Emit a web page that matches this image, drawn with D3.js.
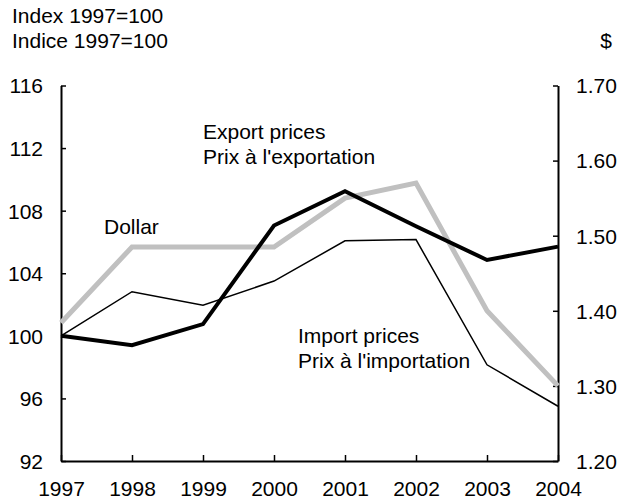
<!DOCTYPE html>
<html>
<head>
<meta charset="utf-8">
<script src="https://cdn.jsdelivr.net/npm/d3@7"></script>
<style>
  body { margin: 0; background: #fff; }
  text { font-family: "Liberation Sans", Arial, sans-serif; font-size: 21px; fill: #000; }
</style>
</head>
<body>
<svg id="chart"></svg>
<script>
const years = [1997, 1998, 1999, 2000, 2001, 2002, 2003, 2004];
const exportPrices = [100, 99.4, 100.75, 107.05, 109.25, 107.0, 104.85, 105.7];
const importPrices = [100, 102.82, 101.95, 103.5, 106.07, 106.15, 98.15, 95.5];
const dollar = [1.384, 1.485, 1.485, 1.485, 1.550, 1.570, 1.400, 1.300];
const leftTicks = [92, 96, 100, 104, 108, 112, 116];
const rightTicks = [1.20, 1.30, 1.40, 1.50, 1.60, 1.70];

const svg = d3.select("#chart");
svg.attr('width', 617);
svg.attr('height', 502);

const x = d3.scaleLinear().domain([1997, 2004]).range([61, 558]);
const yL = d3.scaleLinear().domain([92, 116]).range([461, 85.5]);
const yR = d3.scaleLinear().domain([1.20, 1.70]).range([461, 85.5]);

const drawAxes = () => {
    const left = svg.append("g")
        .attr("transform", `translate(${x.range()[0]},0)`)
        .call(d3.axisRight(yL).tickValues(leftTicks).tickSize(5).tickSizeOuter(0).tickFormat(d3.format("d")));
    left.selectAll(".tick text").attr("x", -18).attr("text-anchor", "end").attr("dy", "0.35em");

    const right = svg.append("g")
        .attr("transform", `translate(${x.range()[1]},0)`)
        .call(d3.axisLeft(yR).tickValues(rightTicks).tickSize(5).tickSizeOuter(0).tickFormat(d3.format(".2f")));
    right.selectAll(".tick text").attr("x", 18).attr("text-anchor", "start").attr("dy", "0.35em");

    const bottom = svg.append("g")
        .attr("transform", `translate(0,${yL.range()[0]})`)
        .call(d3.axisTop(x).tickValues(years).tickSize(6).tickSizeOuter(0).tickFormat(d3.format("d")));
    bottom.selectAll(".tick text").attr("y", 28).attr("dy", "0.35em");

    svg.selectAll(".domain").attr("stroke", "#000").attr("stroke-width", 2);
    svg.selectAll(".tick line").attr("stroke", "#000").attr("stroke-width", 1.5);
    svg.selectAll(".tick text").style("font-size", "21px").style("font-family", "'Liberation Sans', Arial, sans-serif").attr("fill", "#000");
}

const drawLine = (values, yScale, color, width) => {
    svg.append("path")
        .datum(values)
        .attr("d", d3.line().x((d, i) => x(years[i])).y(d => yScale(d)))
        .style("fill", "none")
        .attr("stroke", color)
        .attr("stroke-width", width)
        .attr("stroke-linejoin", "miter");
}

drawAxes();
drawLine(dollar, yR, "#c0c0c0", 5);
drawLine(importPrices, yL, "#000", 1.5);
drawLine(exportPrices, yL, "#000", 4);

const labels = [
    {t: "Index 1997=100", x: 12, y: 23, a: "start"},
    {t: "Indice 1997=100", x: 12, y: 48, a: "start"},
    {t: "$", x: 612, y: 48, a: "end"},
    {t: "Export prices", x: 203, y: 139, a: "start"},
    {t: "Prix à l'exportation", x: 203, y: 164, a: "start"},
    {t: "Dollar", x: 104, y: 234, a: "start"},
    {t: "Import prices", x: 298, y: 343, a: "start"},
    {t: "Prix à l'importation", x: 298, y: 368, a: "start"}
];
svg.append("g")
    .selectAll("text")
    .data(labels)
    .join("text")
        .attr("x", d => d.x)
        .attr("y", d => d.y)
        .attr("text-anchor", d => d.a)
        .text(d => d.t);
</script>
</body>
</html>
